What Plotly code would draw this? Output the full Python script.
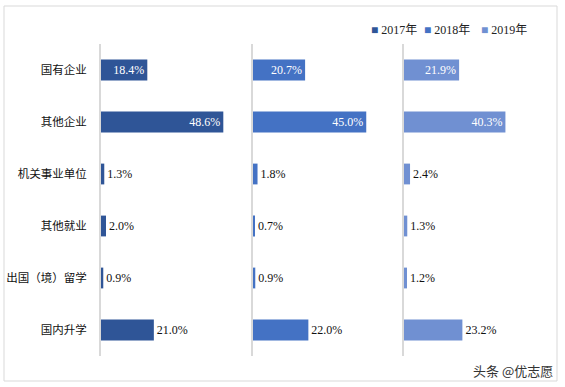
import plotly.graph_objects as go

categories = ["国有企业", "其他企业", "机关事业单位", "其他就业", "出国（境）留学", "国内升学"]
years = ["2017年", "2018年", "2019年"]
v2017 = [18.4, 48.6, 1.3, 2.0, 0.9, 21.0]
v2018 = [20.7, 45.0, 1.8, 0.7, 0.9, 22.0]
v2019 = [21.9, 40.3, 2.4, 1.3, 1.2, 23.2]

series = [v2017, v2018, v2019]
colors = ["#2F5597", "#4472C4", "#7090D2"]
inside_cats = {"国有企业", "其他企业"}

W, H = 565, 387
px_domains = [(101, 252), (253, 404), (404, 555)]
y_dom = [1 - 356 / H, 1 - 44 / H]
serif = "Liberation Serif, Times New Roman, Noto Sans CJK SC, serif"
sans = "Noto Sans CJK SC, sans-serif"

fig = go.Figure()
for i, (name, vals, col) in enumerate(zip(years, series, colors)):
    sfx = "" if i == 0 else str(i + 1)
    fig.add_trace(go.Bar(
        y=categories, x=vals, orientation="h", name=name,
        marker=dict(color=col, line=dict(width=0)),
        text=[f"{v:.1f}%" for v in vals],
        textposition=["inside" if c in inside_cats else "outside" for c in categories],
        insidetextanchor="end",
        insidetextfont=dict(color="white", family=serif, size=12),
        outsidetextfont=dict(color="#111", family=serif, size=12),
        cliponaxis=False,
        xaxis="x" + sfx, yaxis="y" + sfx, showlegend=False,
        hoverinfo="skip",
    ))
    d0, d1 = px_domains[i]
    fig.layout["xaxis" + sfx] = dict(domain=[d0 / W, d1 / W], range=[0, 60], visible=False,
                                     anchor="y" + sfx)
    fig.layout["yaxis" + sfx] = dict(domain=y_dom, anchor="x" + sfx, categoryorder="array",
                                     categoryarray=categories, autorange="reversed",
                                     showline=True, linecolor="#D9D9D9", linewidth=2,
                                     showgrid=False, zeroline=False, ticks="",
                                     showticklabels=(i == 0), ticklabelstandoff=10,
                                     tickfont=dict(family=sans, size=11.5, color="#111"))

annotations = []
leg_x = [369, 422, 479]
for name, col, lx in zip(years, colors, leg_x):
    annotations.append(dict(
        xref="paper", yref="paper", x=lx / W, y=1 - 30 / H, xanchor="left", yanchor="middle",
        text=f"<span style='color:{col}'>■</span> {name}", showarrow=False,
        font=dict(family=serif, size=12, color="#222"),
    ))
annotations.append(dict(
    xref="paper", yref="paper", x=555 / W, y=1 - 370 / H, xanchor="right", yanchor="middle",
    text="头条 @优志愿", showarrow=False, font=dict(family=sans, size=13, color="#333"),
))

fig.update_layout(
    width=W, height=H, margin=dict(l=0, r=0, t=0, b=0),
    paper_bgcolor="white", plot_bgcolor="white", bargap=0.6,
    annotations=annotations,
    shapes=[dict(type="rect", xref="paper", yref="paper", x0=4 / W, x1=557 / W,
                 y0=1 - 381 / H, y1=1 - 6 / H, line=dict(color="#D9D9D9", width=1),
                 layer="below")],
)

fig.write_html("out.html", config={"displayModeBar": False},
               post_script="document.body.style.margin='0';")
